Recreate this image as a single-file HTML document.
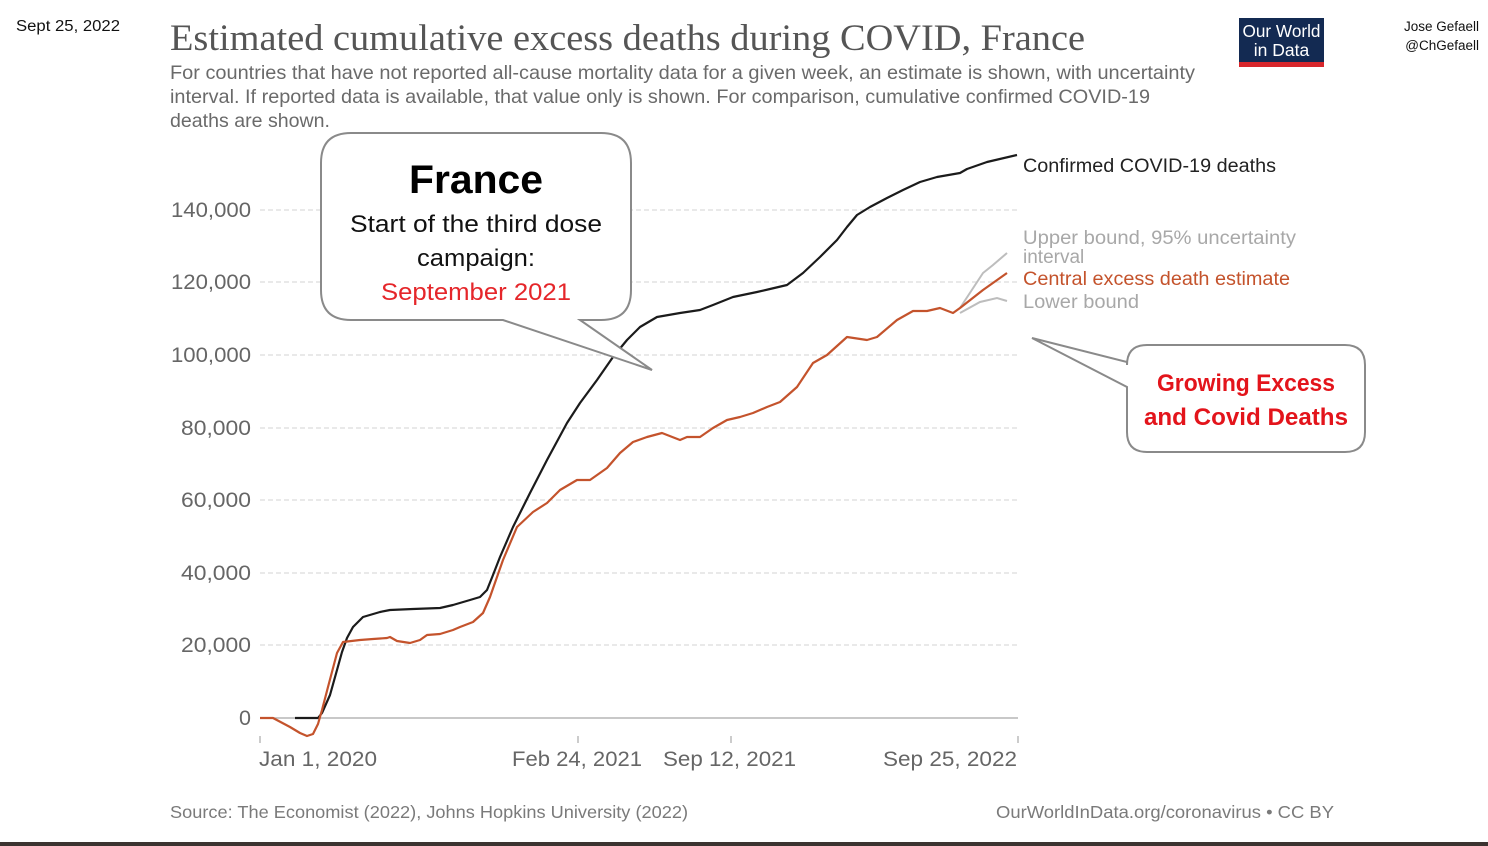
<!DOCTYPE html>
<html><head><meta charset="utf-8"><style>
html,body{margin:0;padding:0;background:#fff;}
svg{display:block;}
</style></head><body>
<svg width="1488" height="846" viewBox="0 0 1488 846" xmlns="http://www.w3.org/2000/svg">
<rect x="0" y="0" width="1488" height="846" fill="#fff"/>
<rect x="0" y="842" width="1488" height="4" fill="#3b3330"/>

<text x="16" y="31" font-family="Liberation Sans, sans-serif" font-size="15.5" fill="#111" textLength="104" lengthAdjust="spacingAndGlyphs">Sept 25, 2022</text>
<text x="1479" y="31" text-anchor="end" font-family="Liberation Sans, sans-serif" font-size="13.5" fill="#111">Jose Gefaell</text>
<text x="1479" y="50" text-anchor="end" font-family="Liberation Sans, sans-serif" font-size="13.5" fill="#111">@ChGefaell</text>

<rect x="1239" y="18" width="85" height="49" fill="#132a52"/>
<rect x="1239" y="62" width="85" height="5" fill="#d7262b"/>
<text x="1281.5" y="37" text-anchor="middle" font-family="Liberation Sans, sans-serif" font-size="17.5" fill="#fff" textLength="78" lengthAdjust="spacingAndGlyphs">Our World</text>
<text x="1281.5" y="56" text-anchor="middle" font-family="Liberation Sans, sans-serif" font-size="17.5" fill="#fff">in Data</text>

<text x="170" y="50" font-family="Liberation Serif, serif" font-size="37" fill="#555" textLength="915" lengthAdjust="spacingAndGlyphs">Estimated cumulative excess deaths during COVID, France</text>
<g font-family="Liberation Sans, sans-serif" font-size="19.5" fill="#6a6a6a">
<text x="170" y="79" textLength="1025" lengthAdjust="spacingAndGlyphs">For countries that have not reported all-cause mortality data for a given week, an estimate is shown, with uncertainty</text>
<text x="170" y="103" textLength="980" lengthAdjust="spacingAndGlyphs">interval. If reported data is available, that value only is shown. For comparison, cumulative confirmed COVID-19</text>
<text x="170" y="127" textLength="160" lengthAdjust="spacingAndGlyphs">deaths are shown.</text>
</g>

<!-- gridlines -->
<g stroke="#dcdcdc" stroke-width="1.2" stroke-dasharray="5,3">
<line x1="260" y1="645" x2="1018" y2="645"/>
<line x1="260" y1="573" x2="1018" y2="573"/>
<line x1="260" y1="500" x2="1018" y2="500"/>
<line x1="260" y1="428" x2="1018" y2="428"/>
<line x1="260" y1="355" x2="1018" y2="355"/>
<line x1="260" y1="282" x2="1018" y2="282"/>
<line x1="260" y1="210" x2="1018" y2="210"/>
</g>
<line x1="260" y1="718" x2="1018" y2="718" stroke="#b5b5b5" stroke-width="1.5"/>
<g stroke="#aaa" stroke-width="1.2">
<line x1="260" y1="736" x2="260" y2="743"/>
<line x1="578" y1="736" x2="578" y2="743"/>
<line x1="731" y1="736" x2="731" y2="743"/>
<line x1="1018" y1="736" x2="1018" y2="743"/>
</g>

<g font-family="Liberation Sans, sans-serif" font-size="21.5" fill="#666" text-anchor="end">
<text x="251" y="725">0</text>
<text x="251" y="652" textLength="70" lengthAdjust="spacingAndGlyphs">20,000</text>
<text x="251" y="580" textLength="70" lengthAdjust="spacingAndGlyphs">40,000</text>
<text x="251" y="507" textLength="70" lengthAdjust="spacingAndGlyphs">60,000</text>
<text x="251" y="435" textLength="70" lengthAdjust="spacingAndGlyphs">80,000</text>
<text x="251" y="362" textLength="80" lengthAdjust="spacingAndGlyphs">100,000</text>
<text x="251" y="289" textLength="80" lengthAdjust="spacingAndGlyphs">120,000</text>
<text x="251" y="217" textLength="80" lengthAdjust="spacingAndGlyphs">140,000</text>
</g>
<g font-family="Liberation Sans, sans-serif" font-size="21.5" fill="#666">
<text x="259" y="766" textLength="118" lengthAdjust="spacingAndGlyphs">Jan 1, 2020</text>
<text x="512" y="766" textLength="130" lengthAdjust="spacingAndGlyphs">Feb 24, 2021</text>
<text x="663" y="766" textLength="133" lengthAdjust="spacingAndGlyphs">Sep 12, 2021</text>
<text x="883" y="766" textLength="134" lengthAdjust="spacingAndGlyphs">Sep 25, 2022</text>
</g>

<!-- series -->
<polyline fill="none" stroke="#bdbdbd" stroke-width="2" points="960,308 983,273 993,265 1007,253"/>
<polyline fill="none" stroke="#bdbdbd" stroke-width="2" points="960,313 980,302 997,298 1007,301"/>
<polyline fill="none" stroke="#1b1b1b" stroke-width="2.2" stroke-linejoin="round" points="295,718 318,718 322,713 330,695 337,670 342,652 347,638 353,627 363,617 380,612 390,610 413,609 440,608 453,605 470,600 480,597 487,590 493,575 500,557 513,527 530,493 547,460 567,423 580,403 597,380 613,357 627,340 640,327 657,317 680,313 700,310 713,305 733,297 757,292 770,289 787,285 803,273 820,257 837,240 847,227 857,215 870,207 887,198 903,190 920,182 937,177 960,173 967,169 987,162 1017,155"/>
<polyline fill="none" stroke="#c4532c" stroke-width="2.2" stroke-linejoin="round" points="260,718 273,718 290,727 300,733 307,736 313,734 318,724 322,710 328,687 337,653 343,642 360,640 373,639 387,638 390,637 397,641 410,643 420,640 427,635 440,634 453,630 460,627 473,622 483,613 490,597 497,577 503,560 517,527 533,512 547,503 560,490 577,480 590,480 607,468 620,453 633,442 647,437 662,433 680,440 687,437 700,437 713,428 727,420 740,417 753,413 767,407 780,402 797,387 813,363 827,355 847,337 867,340 877,337 897,320 913,311 927,311 940,308 953,313 960,308 983,290 1007,273"/>

<!-- legend -->
<g font-family="Liberation Sans, sans-serif" font-size="19">
<text x="1023" y="172" fill="#222" textLength="253" lengthAdjust="spacingAndGlyphs">Confirmed COVID-19 deaths</text>
<text x="1023" y="244" fill="#a8a8a8" textLength="273" lengthAdjust="spacingAndGlyphs">Upper bound, 95% uncertainty</text>
<text x="1023" y="263" fill="#a8a8a8">interval</text>
<text x="1023" y="285" fill="#c4532c" textLength="267" lengthAdjust="spacingAndGlyphs">Central excess death estimate</text>
<text x="1023" y="308" fill="#a8a8a8" textLength="116" lengthAdjust="spacingAndGlyphs">Lower bound</text>
</g>

<!-- callout 1 -->
<path d="M351,133 H601 Q631,133 631,163 V290 Q631,320 601,320 H580 L652,370 L503,320 H351 Q321,320 321,290 V163 Q321,133 351,133 Z" fill="#fff" stroke="#8a8a8a" stroke-width="2"/>
<g font-family="Liberation Sans, sans-serif" text-anchor="middle">
<text x="476" y="193" font-size="40" font-weight="bold" fill="#000" textLength="134" lengthAdjust="spacingAndGlyphs">France</text>
<text x="476" y="232" font-size="24" fill="#111" textLength="252" lengthAdjust="spacingAndGlyphs">Start of the third dose</text>
<text x="476" y="266" font-size="24" fill="#111" textLength="118" lengthAdjust="spacingAndGlyphs">campaign:</text>
<text x="476" y="300" font-size="24" fill="#e5262a" textLength="190" lengthAdjust="spacingAndGlyphs">September 2021</text>
</g>

<!-- callout 2 -->
<path d="M1147,345 H1345 Q1365,345 1365,365 V432 Q1365,452 1345,452 H1147 Q1127,452 1127,432 V387 L1032,338 L1127,362 V365 Q1127,345 1147,345 Z" fill="#fff" stroke="#8a8a8a" stroke-width="2"/>
<g font-family="Liberation Sans, sans-serif" text-anchor="middle" font-weight="bold" fill="#e3141b" font-size="24">
<text x="1246" y="391" textLength="178" lengthAdjust="spacingAndGlyphs">Growing Excess</text>
<text x="1246" y="425" textLength="204" lengthAdjust="spacingAndGlyphs">and Covid Deaths</text>
</g>

<!-- footer -->
<g font-family="Liberation Sans, sans-serif" font-size="17.5" fill="#7a7a7a">
<text x="170" y="818" textLength="518" lengthAdjust="spacingAndGlyphs">Source: The Economist (2022), Johns Hopkins University (2022)</text>
<text x="996" y="818" textLength="338" lengthAdjust="spacingAndGlyphs">OurWorldInData.org/coronavirus • CC BY</text>
</g>
</svg>
</body></html>
